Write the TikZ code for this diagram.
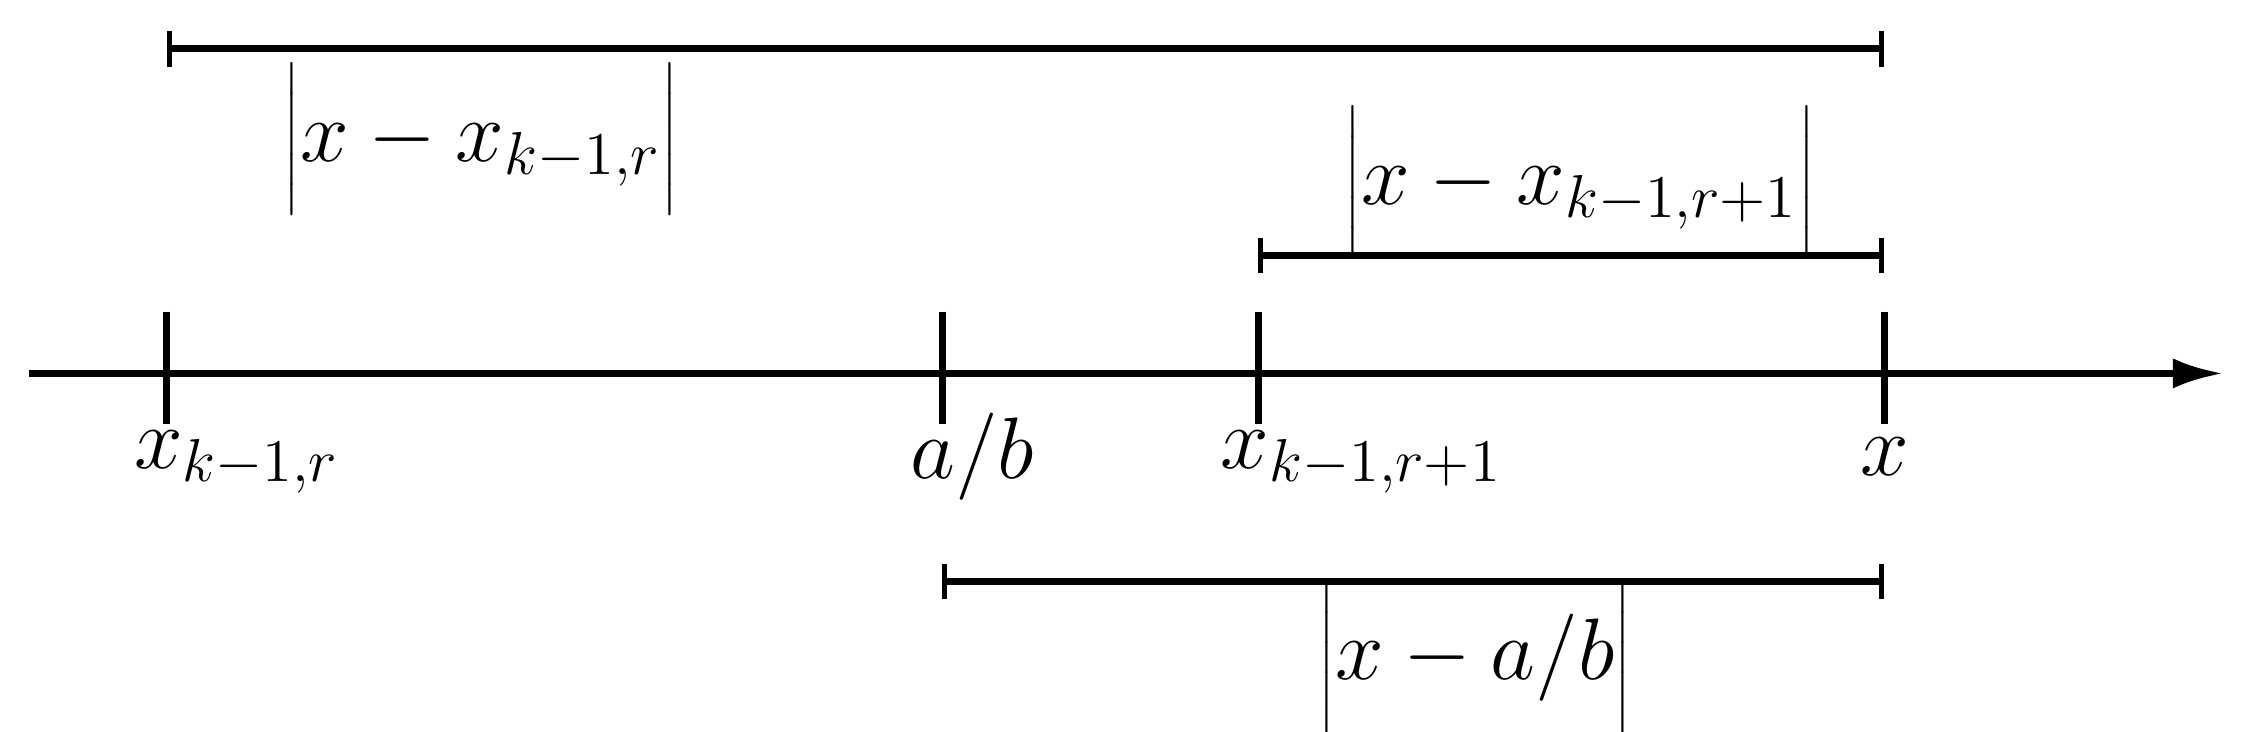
\documentclass[tikz,border=0pt]{standalone}
\usetikzlibrary{arrows.meta}
\newcommand{\tallbar}{\vphantom{\rule[-0.36cm]{0pt}{0.86cm}}}
\begin{document}
\begin{tikzpicture}[x=0.01cm,y=-0.01cm,
  axis/.style={line width=1.4pt},
  tick/.style={line width=1.4pt},
  span/.style={line width=1.4pt,{Bar[width=7pt,line width=1pt]}-{Bar[width=7pt,line width=1pt]}},
  lbl/.style={font=\fontsize{18}{22}\selectfont, inner sep=0pt}]
\useasboundingbox (0,0) rectangle (1568,509);
\coordinate (a0) at (20,260);
\coordinate (a1) at (1548,260);
\draw[axis,-{Latex[length=10pt,width=6pt]}] (a0) -- (a1);
\foreach \n/\x in {t1/116,t2/656,t3/876,t4/1312}{
  \draw[tick] (\x,217) -- (\x,295);
}
\node[lbl] (l1) at (165,322) {$x_{k-1,r}$};
\node[lbl] (l2) at (677,318) {$a/b$};
\node[lbl] (l3) at (948,322) {$x_{k-1,r+1}$};
\node[lbl] (l4) at (1312,318) {$x$};
\coordinate (s1a) at (116,34); \coordinate (s1b) at (1312,34);
\draw[span] (s1a) -- (s1b);
\node[lbl,font=\fontsize{17}{20}\selectfont] (m1) at (335,97) {$\left|x-x_{k-1,r}\tallbar\right|$};
\coordinate (s2a) at (876,178); \coordinate (s2b) at (1312,178);
\draw[span] (s2a) -- (s2b);
\node[lbl,font=\fontsize{17}{20}\selectfont] (m2) at (1100,127) {$\left|x-x_{k-1,r+1}\tallbar\right|$};
\coordinate (s3a) at (656,405); \coordinate (s3b) at (1312,405);
\draw[span] (s3a) -- (s3b);
\node[lbl,font=\fontsize{17}{20}\selectfont] (m3) at (1027,458) {$\left|x-a/b\tallbar\right|$};
\end{tikzpicture}
\end{document}
